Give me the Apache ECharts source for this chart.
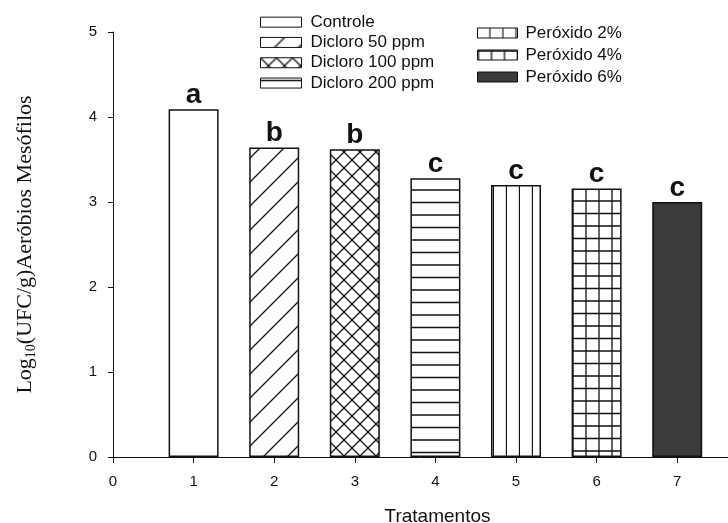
<!DOCTYPE html>
<html>
<head>
<meta charset="utf-8">
<script src="https://cdn.jsdelivr.net/npm/echarts@6/dist/echarts.min.js"></script>
<style>
  html, body { margin: 0; padding: 0; background: #fff; }
  #chart { width: 728px; height: 523px; }
</style>
</head>
<body>
<div id="chart"></div>
<script>
// dados do gráfico
var treatments = ['Controle', 'Dicloro 50 ppm', 'Dicloro 100 ppm', 'Dicloro 200 ppm', 'Peróxido 2%', 'Peróxido 4%', 'Peróxido 6%'];
var xPos = [1, 2, 3, 4, 5, 6, 7];
var logCounts = [4.09, 3.64, 3.62, 3.28, 3.20, 3.16, 3.00];
var letters = ['a', 'b', 'b', 'c', 'c', 'c', 'c'];
var xTicks = [0, 1, 2, 3, 4, 5, 6, 7];

var ink = '#111';
var sans = 'Liberation Sans';

// hachuras desenhadas num canvas pequeno
function makePattern (kind) {
  var c = document.createElement('canvas')
  var w = 24, h = 24
  if (kind === 'cross') { w = 16; h = 16 }
  if (kind === 'hlines') { w = 12; h = 25 }
  if (kind === 'vlines') { w = 13; h = 12 }
  if (kind === 'grid') { w = 13; h = 25 }
  c.width = w
  c.height = h
  var ctx = c.getContext('2d')
  ctx.fillStyle = '#fff'
  ctx.fillRect(0, 0, w, h)
  ctx.strokeStyle = ink
  ctx.lineWidth = 1.3
  ctx.beginPath()
  if (kind === 'diag' || kind === 'cross') {
    ctx.moveTo(-2, h + 2); ctx.lineTo(w + 2, -2)
    ctx.moveTo(-2, 2); ctx.lineTo(2, -2)
    ctx.moveTo(w - 2, h + 2); ctx.lineTo(w + 2, h - 2)
  }
  if (kind === 'cross') {
    ctx.moveTo(-2, -2); ctx.lineTo(w + 2, h + 2)
    ctx.moveTo(w - 2, -2); ctx.lineTo(w + 2, 2)
    ctx.moveTo(-2, h - 2); ctx.lineTo(2, h + 2)
  }
  if (kind === 'hlines') {
    ctx.moveTo(0, 2.5); ctx.lineTo(w, 2.5)
    ctx.moveTo(0, 15); ctx.lineTo(w, 15)
  }
  if (kind === 'vlines') {
    ctx.moveTo(12.5, 0); ctx.lineTo(12.5, h)
  }
  if (kind === 'grid') {
    ctx.moveTo(1, 0); ctx.lineTo(1, h)
    ctx.moveTo(0, 1); ctx.lineTo(w, 1)
    ctx.moveTo(0, 13.5); ctx.lineTo(w, 13.5)
  }
  ctx.stroke()
  return { image: c, repeat: 'repeat' }
}

var fills = [
  '#fff',
  makePattern('diag'),
  makePattern('cross'),
  makePattern('hlines'),
  makePattern('vlines'),
  makePattern('grid'),
  '#3b3b3b'
]

var legendBase = {
  orient: 'vertical',
  icon: 'rect',
  itemHeight: 10,
  itemGap: 0,
  selectedMode: false,
  itemStyle: { borderColor: ink, borderWidth: 1 },
  padding: 0
}

var myChart = echarts.init(document.getElementById('chart'))

myChart.setOption({
  animation: false,
  backgroundColor: '#fff',
  grid: { left: 113, right: 0, top: 32, bottom: 66, containLabel: false, outerBoundsMode: 'none' },
  legend: [
    Object.assign({}, legendBase, {
      data: treatments.slice(0, 4),
      left: 260,
      top: 12,
      itemWidth: 41,
      textStyle: { fontFamily: sans, fontSize: 17, lineHeight: 20.3, color: ink, padding: [0, 0, 0, 4] }
    }),
    Object.assign({}, legendBase, {
      data: treatments.slice(4),
      left: 477,
      top: 22,
      itemWidth: 40,
      textStyle: { fontFamily: sans, fontSize: 17, lineHeight: 22, color: ink, padding: [0, 0, 0, 3] }
    })
  ],
  xAxis: {
    type: 'value',
    min: 0,
    max: 7.63,
    interval: 1,
    name: 'Tratamentos',
    nameLocation: 'middle',
    nameGap: 50,
    nameTextStyle: { fontFamily: sans, fontSize: 19, color: ink, padding: [0, 0, 0, 34] },
    axisLine: { show: true, lineStyle: { color: ink, width: 1 } },
    axisTick: { show: true, length: 6, customValues: xTicks, lineStyle: { color: ink } },
    axisLabel: { fontFamily: sans, fontSize: 15, color: ink, margin: 17, customValues: xTicks },
    splitLine: { show: false }
  },
  yAxis: {
    type: 'value',
    min: 0,
    max: 5,
    interval: 1,
    name: '{m|Log}{s|10}{m|(UFC/g)Aeróbios Mesófilos}',
    nameLocation: 'middle',
    nameRotate: 90,
    nameGap: 75,
    nameTextStyle: {
      rich: {
        m: { fontFamily: 'Liberation Serif', fontSize: 22, lineHeight: 25, color: ink },
        s: { fontFamily: 'Liberation Serif', fontSize: 14, lineHeight: 14, verticalAlign: 'bottom', color: ink }
      }
    },
    axisLine: { show: true, lineStyle: { color: ink, width: 1 } },
    axisTick: { show: true, length: 5, lineStyle: { color: ink } },
    axisLabel: { fontFamily: sans, fontSize: 15, color: ink, margin: 16 },
    splitLine: { show: false }
  },
  series: treatments.map(function (name, i) {
    return {
      name: name,
      type: 'bar',
      barWidth: 50,
      barGap: '-100%',
      silent: true,
      emphasis: { disabled: true },
      data: [[xPos[i], logCounts[i]]],
      itemStyle: { color: fills[i], borderColor: ink, borderWidth: 1.5 },
      label: {
        show: true,
        position: 'top',
        distance: 0,
        formatter: letters[i],
        fontFamily: sans,
        fontSize: 28,
        fontWeight: 'bold',
        color: ink
      }
    }
  })
})
</script>
</body>
</html>
